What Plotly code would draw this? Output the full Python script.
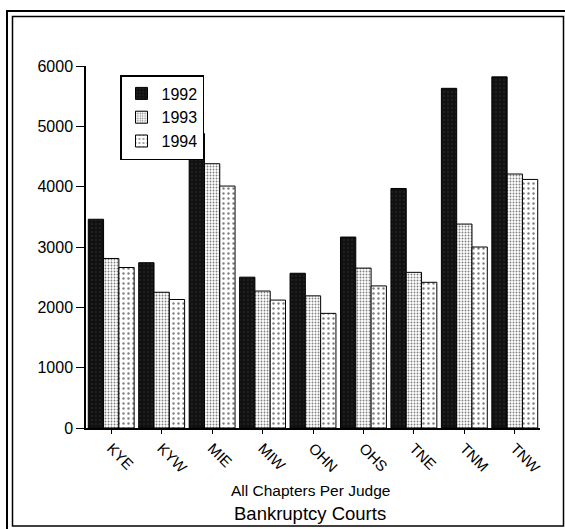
import plotly.graph_objects as go

courts = ["KYE", "KYW", "MIE", "MIW", "OHN", "OHS", "TNE", "TNM", "TNW"]
y1992 = [3460, 2740, 4880, 2500, 2565, 3165, 3970, 5630, 5820]
y1993 = [2810, 2250, 4380, 2270, 2190, 2650, 2580, 3380, 4210]
y1994 = [2660, 2130, 4010, 2120, 1900, 2355, 2415, 3000, 4120]
series_names = ["1992", "1993", "1994"]
ytick_vals = [0, 1000, 2000, 3000, 4000, 5000, 6000]

FONT = "Liberation Sans, Arial, sans-serif"
W, H = 565, 529
L, R, T, B = 86, 540, 66, 428  # plot area in pixels


def px_x(p):
    return (p - L) / (R - L)


def px_y(p):
    return (B - p) / (B - T)


styles = [
    dict(color="#151515", pattern=dict(shape=".", fgcolor="#5a5a5a", bgcolor="#111111", size=4, solidity=0.12)),
    dict(color="white", pattern=dict(shape=".", fgcolor="#000000", bgcolor="#ffffff", size=3, solidity=0.3)),
    dict(color="white", pattern=dict(shape=".", fgcolor="#000000", bgcolor="#ffffff", size=5, solidity=0.18)),
]

fig = go.Figure()
for name, vals, st in zip(series_names, [y1992, y1993, y1994], styles):
    fig.add_trace(go.Bar(
        x=courts, y=vals, name=name,
        marker=dict(color=st["color"], pattern=st["pattern"],
                    line=dict(color="black", width=1)),
    ))

fig.update_layout(
    width=W, height=H,
    margin=dict(l=L, r=W - R, t=T, b=H - B, pad=0),
    paper_bgcolor="white", plot_bgcolor="white",
    barmode="group", bargap=0.09, bargroupgap=0,
    font=dict(family=FONT, size=15, color="black"),
    showlegend=True,
    legend=dict(
        x=px_x(120), y=px_y(75), xanchor="left", yanchor="top",
        bordercolor="black", borderwidth=1.5, bgcolor="white",
        font=dict(size=16, family=FONT), tracegroupgap=0,
    ),
    xaxis=dict(
        showline=True, linecolor="black", linewidth=1.5,
        ticks="outside", ticklen=4, tickcolor="black",
        tickangle=45, tickfont=dict(size=15, family=FONT),
        showgrid=False, zeroline=False,
    ),
    yaxis=dict(
        range=[0, 6000], tickvals=ytick_vals,
        showline=True, linecolor="black", linewidth=1.5,
        ticks="outside", ticklen=8, tickcolor="black",
        tickfont=dict(size=16, family=FONT),
        showgrid=False, zeroline=False,
    ),
    annotations=[
        dict(text="All Chapters Per Judge", xref="paper", yref="paper",
             x=px_x(310), y=px_y(490), showarrow=False,
             font=dict(size=15.5, family=FONT), xanchor="center", yanchor="middle"),
        dict(text="Bankruptcy Courts", xref="paper", yref="paper",
             x=px_x(310), y=px_y(513), showarrow=False,
             font=dict(size=18.5, family=FONT), xanchor="center", yanchor="middle"),
    ],
    shapes=[
        dict(type="rect", xref="paper", yref="paper",
             x0=px_x(7), x1=px_x(569), y0=px_y(532), y1=px_y(11),
             line=dict(color="black", width=2), fillcolor="rgba(0,0,0,0)", layer="above"),
        dict(type="rect", xref="paper", yref="paper",
             x0=px_x(12.5), x1=px_x(563.5), y0=px_y(526), y1=px_y(16.5),
             line=dict(color="black", width=1.5), fillcolor="rgba(0,0,0,0)", layer="above"),
    ],
)

fig.write_html("out.html")
